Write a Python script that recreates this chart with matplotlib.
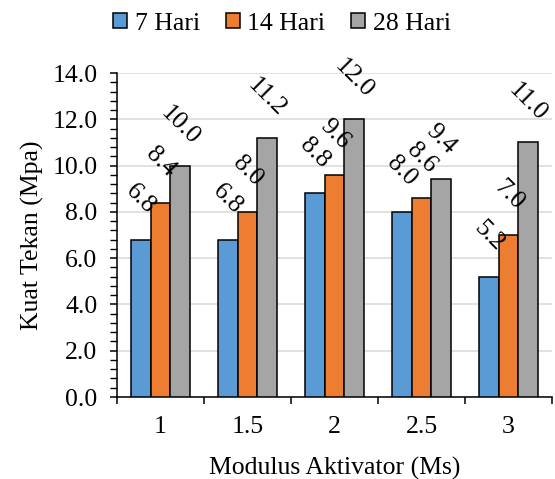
import matplotlib
matplotlib.use("Agg")
import matplotlib.pyplot as plt
import numpy as np
from matplotlib.ticker import MultipleLocator, FixedLocator, FuncFormatter

plt.rcParams['font.family'] = ['Liberation Serif', 'DejaVu Serif']

categories = ["1", "1.5", "2", "2.5", "3"]
series_names = ["7 Hari", "14 Hari", "28 Hari"]
hari7 = [6.8, 6.8, 8.8, 8.0, 5.2]
hari14 = [8.4, 8.0, 9.6, 8.6, 7.0]
hari28 = [10.0, 11.2, 12.0, 9.4, 11.0]
colors = ["#5B9BD5", "#ED7D31", "#A5A5A5"]

fig = plt.figure(figsize=(5.55, 4.79), dpi=100)
ax = fig.add_axes([117/555, 1-397/479, (552-117)/555, (397-73)/479])

x = np.arange(len(categories))
w = 0.224
fs = 18.5
for i, (vals, name, c) in enumerate(zip([hari7, hari14, hari28], series_names, colors)):
    pos = x + (i - 1) * w
    ax.bar(pos, vals, w, color=c, edgecolor='black', linewidth=1.1, label=name, zorder=3)
    for px, v in zip(pos, vals):
        ax.annotate(f"{v:.1f}", xy=(px, v), xytext=(0, 29), textcoords='offset points',
                    ha='center', va='center', rotation=-45, rotation_mode='anchor',
                    fontsize=fs, zorder=4)

ax.set_xlim(-0.5, len(categories) - 0.5)
ax.set_ylim(0, 14)
ax.yaxis.set_major_locator(MultipleLocator(2))
ax.yaxis.set_minor_locator(MultipleLocator(0.4))
ax.yaxis.set_major_formatter(FuncFormatter(lambda v, p: f"{v:.1f}"))
ax.grid(axis='y', color='#D9D9D9', linewidth=1.1, zorder=0)
ax.set_axisbelow(True)

ax.set_xticks(x)
ax.set_xticklabels(categories)
ax.xaxis.set_minor_locator(FixedLocator(np.arange(-0.5, len(categories), 1.0)))
ax.tick_params(axis='x', which='major', length=0, pad=14, labelsize=fs)
ax.tick_params(axis='x', which='minor', length=5, width=1.1, direction='out')
ax.tick_params(axis='y', which='major', length=5, width=1.1, direction='out', pad=9, labelsize=fs)
ax.tick_params(axis='y', which='minor', length=5, width=1.0, direction='out')

for s in ['top', 'right']:
    ax.spines[s].set_visible(False)
for s in ['left', 'bottom']:
    ax.spines[s].set_linewidth(1.1)

ax.set_ylabel("Kuat Tekan (Mpa)", fontsize=fs, labelpad=6)
ax.set_xlabel("Modulus Aktivator (Ms)", fontsize=fs, labelpad=13)

fig.legend(loc='upper center', bbox_to_anchor=(0.508, 1.0), ncol=3, frameon=False,
           fontsize=fs, handlelength=0.55, handleheight=0.55, handletextpad=0.3,
           columnspacing=1.0, borderaxespad=0.1)

fig.savefig("out.png", dpi=100)
